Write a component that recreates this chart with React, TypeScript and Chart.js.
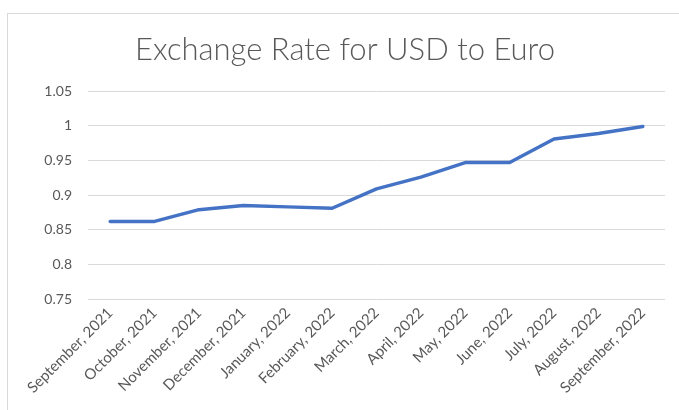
import React, { useEffect, useRef } from "react";
import { Chart, registerables } from "chart.js";

Chart.register(...registerables);

const categories = [
  "September, 2021",
  "October, 2021",
  "November, 2021",
  "December, 2021",
  "January, 2022",
  "February, 2022",
  "March, 2022",
  "April, 2022",
  "May, 2022",
  "June, 2022",
  "July, 2022",
  "August, 2022",
  "September, 2022",
];

const rates = [0.862, 0.862, 0.879, 0.885, 0.883, 0.881, 0.909, 0.926, 0.947, 0.947, 0.981, 0.989, 0.999];

const titleText = "Exchange Rate for USD to Euro";
const yMin = 0.75;
const yMax = 1.05;
const yStep = 0.05;

export default function App() {
  const ref = useRef<HTMLCanvasElement | null>(null);

  useEffect(() => {
    document.body.style.overflow = "hidden";
    const canvas = ref.current;
    if (!canvas) return;
    const chart = new Chart(canvas, {
      type: "line",
      data: {
        labels: categories,
        datasets: [
          {
            label: "Rate",
            data: rates,
            borderColor: "#4472C4",
            backgroundColor: "#4472C4",
            borderWidth: 3.5,
            pointRadius: 0,
            tension: 0,
            borderCapStyle: "round",
            borderJoinStyle: "round",
          },
        ],
      },
      options: {
        animation: false,
        responsive: false,
        maintainAspectRatio: false,
        layout: { padding: { left: 25, right: 14, top: 14, bottom: 0 } },
        plugins: {
          legend: { display: false },
          tooltip: { enabled: false },
          title: {
            display: true,
            text: titleText,
            color: "#595959",
            font: { family: "Lato", size: 31, weight: "300" },
            padding: { top: 17, bottom: 23 },
          },
        },
        scales: {
          x: {
            offset: true,
            grid: { display: false, drawTicks: false },
            border: { display: false },
            ticks: {
              color: "#595959",
              font: { family: "Lato", size: 15 },
              maxRotation: 45,
              minRotation: 45,
              autoSkip: false,
              padding: 5,
            },
            afterFit: (s: any) => {
              s.height = 111;
            },
          },
          y: {
            min: yMin,
            max: yMax,
            grid: { color: "#d9d9d9", lineWidth: 1, drawTicks: false },
            border: { display: false },
            ticks: {
              stepSize: yStep,
              color: "#595959",
              font: { family: "Lato", size: 14 },
              padding: 16,
              callback: (v: any) => String(Math.round(Number(v) * 100) / 100),
            },
            afterFit: (s: any) => {
              s.width = 63;
            },
          },
        },
      },
    });
    return () => chart.destroy();
  }, []);

  return (
    <div>
      <div
        style={{
          position: "fixed",
          left: 7,
          top: 13,
          width: 672,
          height: 397,
          borderTop: "1px solid #d9d9d9",
          borderLeft: "1px solid #d9d9d9",
          boxSizing: "border-box",
        }}
      />
      <canvas
        ref={ref}
        width={679}
        height={410}
        style={{ position: "fixed", left: 0, top: 0, width: 679, height: 410 }}
      />
    </div>
  );
}
